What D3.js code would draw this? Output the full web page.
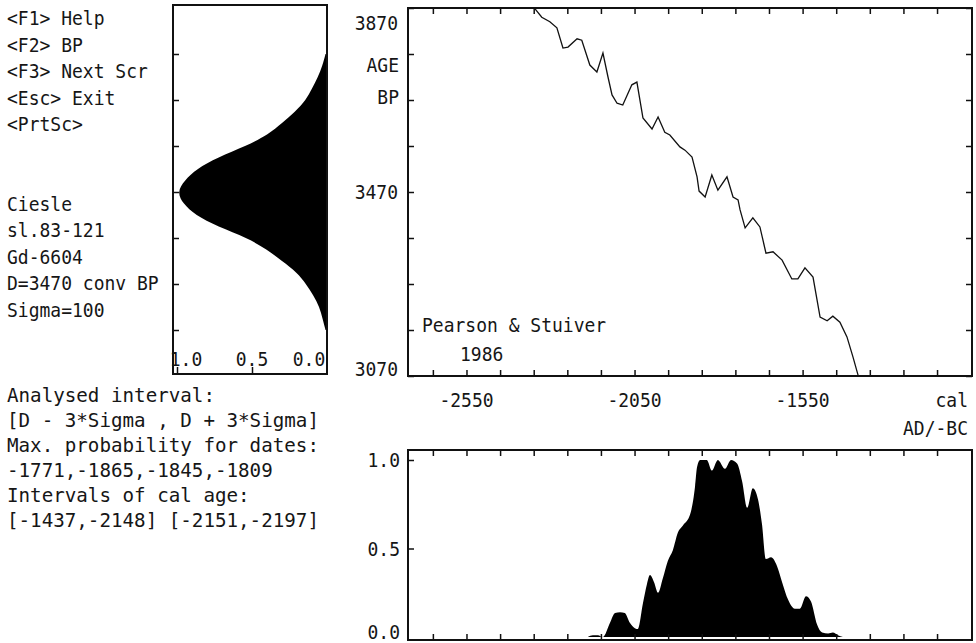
<!DOCTYPE html>
<html>
<head>
<meta charset="utf-8">
<script src="https://cdn.jsdelivr.net/npm/d3@7"></script>
<style>
  body { margin: 0; background: #fff; }
  svg text { font-family: "DejaVu Sans Mono", monospace; font-size: 20px; fill: #161616; }
</style>
</head>
<body>
<svg id="chart" width="976" height="643"></svg>
<script>
// calibration curve (Pearson & Stuiver 1986), cal years vs conventional age BP
const curveYears = [-2346, -2326, -2302, -2281, -2263, -2248, -2221, -2207, -2183, -2162, -2144, -2129, -2117, -2102, -2085, -2058, -2043, -2025, -1998, -1980, -1960, -1945, -1915, -1900, -1879, -1864, -1858, -1840, -1820, -1802, -1775, -1757, -1742, -1736, -1721, -1698, -1677, -1659, -1638, -1611, -1582, -1564, -1543, -1519, -1498, -1477, -1460, -1439, -1418, -1400, -1385]
const curveBP = [3868, 3850, 3840, 3827, 3783, 3785, 3803, 3800, 3746, 3731, 3772, 3720, 3681, 3663, 3659, 3703, 3709, 3631, 3607, 3633, 3600, 3594, 3568, 3561, 3546, 3503, 3472, 3459, 3507, 3474, 3503, 3459, 3453, 3431, 3392, 3414, 3394, 3337, 3340, 3322, 3281, 3281, 3305, 3285, 3198, 3190, 3200, 3187, 3155, 3111, 3072]

// measured date as probability over age BP (left panel)
const gaussAge = [3770, 3745, 3720, 3695, 3670, 3645, 3620, 3595, 3570, 3545, 3520, 3495, 3470, 3445, 3420, 3395, 3370, 3345, 3320, 3295, 3270, 3245, 3220, 3195, 3170]
const gaussProb = [0.01, 0.03, 0.06, 0.1, 0.14, 0.21, 0.3, 0.39, 0.54, 0.73, 0.87, 0.95, 1.0, 0.96, 0.88, 0.73, 0.53, 0.4, 0.3, 0.2, 0.14, 0.09, 0.05, 0.03, 0.01]

// calibrated probability (bottom panel)
const histYears = [-2189, -2174, -2159, -2144, -2123, -2108, -2093, -2079, -2064, -2049, -2040, -2025, -2013, -2004, -1992, -1980, -1966, -1951, -1936, -1921, -1906, -1885, -1870, -1864, -1855, -1835, -1820, -1802, -1781, -1763, -1745, -1730, -1715, -1698, -1683, -1671, -1659, -1644, -1626, -1611, -1593, -1573, -1558, -1540, -1525, -1507, -1492, -1474, -1460, -1445, -1430]
const histProb = [0, 0.01, 0.01, 0, 0.08, 0.135, 0.14, 0.135, 0.08, 0.05, 0.045, 0.19, 0.3, 0.35, 0.31, 0.25, 0.33, 0.43, 0.49, 0.59, 0.63, 0.69, 0.85, 0.96, 1.0, 1.0, 0.94, 1.0, 0.95, 1.0, 0.98, 0.88, 0.73, 0.84, 0.78, 0.64, 0.44, 0.45, 0.4, 0.31, 0.21, 0.16, 0.16, 0.23, 0.2, 0.07, 0.025, 0.02, 0.025, 0.01, 0]

const ageLabels = [3870, 3470, 3070]
const calLabels = [-2550, -2050, -1550]
const probLabels = [1.0, 0.5, 0.0]
const menuLines = ['<F1> Help', '<F2> BP', '<F3> Next Scr', '<Esc> Exit', '<PrtSc>']
const sampleLines = ['Ciesle', 'sl.83-121', 'Gd-6604', 'D=3470 conv BP', 'Sigma=100']
const resultLines = ['Analysed interval:', '[D - 3*Sigma , D + 3*Sigma]', 'Max. probability for dates:', '-1771,-1865,-1845,-1809', 'Intervals of cal age:', '[-1437,-2148] [-2151,-2197]']

const svg = d3.select('#chart')

const x = d3.scaleLinear().domain([-2724, -1046]).range([408, 972])
const yAge = d3.scaleLinear().domain([3070, 3870]).range([376, 8])
const gx = d3.scaleLinear().domain([0, 1]).range([327, 177])
const yP = d3.scaleLinear().domain([0, 1]).range([637, 460])

const ageTicks = d3.range(3070, 3871, 100)
const calTicks = d3.range(-2650, -1100, 100)

function txt(g, px, py, s, anchor, sx) {
    g.append('text')
        .attr('transform', 'translate(' + px + ',' + py + ') scale(' + (sx || 0.9) + ',1)')
        .attr('text-anchor', anchor || 'start')
        .attr('dominant-baseline', 'central')
        .text(s)
}

function box(x0, y0, x1, y1, w) {
    svg.append('rect')
        .attr('x', x0).attr('y', y0)
        .attr('width', x1 - x0).attr('height', y1 - y0)
        .attr('fill', 'none').attr('stroke', '#111').attr('stroke-width', w || 2)
}

function ticks(axis, tx, ty) {
    const g = svg.append('g').attr('transform', 'translate(' + tx + ',' + ty + ')').call(axis)
    g.select('.domain').remove()
    g.selectAll('.tick line').attr('stroke', '#111').attr('stroke-width', 1.5)
    return g
}

// left panel: measured date distribution
svg.append('path')
    .datum(gaussAge.map((a, i) => [a, gaussProb[i]]))
    .attr('d', d3.area()
        .y(d => yAge(d[0]))
        .x0(gx(0))
        .x1(d => gx(d[1]))
        .curve(d3.curveBasis))
    .attr('fill', '#000')
box(173, 5, 327, 374, 2)
ticks(d3.axisLeft(yAge).tickValues(ageTicks.slice(1, -1)).tickSize(-6).tickFormat(''), 173, 0)
ticks(d3.axisBottom(gx).tickValues([1, 0.5]).tickSize(-7).tickFormat(''), 0, 374)
probLabels.forEach(v => {
    const lx = v === 1 ? gx(v) + 9 : v === 0 ? gx(v) - 18 : gx(v)
    txt(svg, lx, 359, v.toFixed(1), 'middle')
})

// top right panel: calibration curve
svg.append('clipPath').attr('id', 'clipTop')
    .append('rect').attr('x', 408).attr('y', 8).attr('width', 564).attr('height', 368)
svg.append('path')
    .datum(curveYears.map((c, i) => [c, curveBP[i]]))
    .attr('clip-path', 'url(#clipTop)')
    .attr('d', d3.line().x(d => x(d[0])).y(d => yAge(d[1])))
    .attr('fill', 'none').attr('stroke', '#111').attr('stroke-width', 1.3)
box(408, 8, 972, 376, 2)
ticks(d3.axisLeft(yAge).tickValues(ageTicks).tickSize(-6).tickFormat(''), 408, 0)
ticks(d3.axisRight(yAge).tickValues(ageTicks).tickSize(-6).tickFormat(''), 972, 0)
ticks(d3.axisTop(x).tickValues(calTicks).tickSize(-6).tickFormat(''), 0, 8)
ticks(d3.axisBottom(x).tickValues(calTicks).tickSize(-6).tickFormat(''), 0, 376)
ageLabels.forEach(v => {
    const ly = Math.min(Math.max(yAge(v), 23), 369)
    txt(svg, 398, ly, v, 'end')
})
calLabels.forEach(v => txt(svg, x(v), 400, v, 'middle'))
txt(svg, 968, 400, 'cal', 'end')
txt(svg, 968, 428, 'AD/-BC', 'end')
txt(svg, 399, 65, 'AGE', 'end')
txt(svg, 399, 97, 'BP', 'end')
txt(svg, 422, 325, 'Pearson & Stuiver', 'start')
txt(svg, 460, 354, '1986', 'start')

// bottom panel: calibrated distribution
svg.append('path')
    .datum(histYears.map((c, i) => [c, histProb[i]]))
    .attr('d', d3.area()
        .x(d => x(d[0]))
        .y0(yP(0))
        .y1(d => yP(d[1]))
        .curve(d3.curveMonotoneX))
    .attr('fill', '#000')
box(408, 450, 972, 640, 2)
ticks(d3.axisTop(x).tickValues(calTicks).tickSize(-6).tickFormat(''), 0, 450)
ticks(d3.axisBottom(x).tickValues(calTicks).tickSize(-6).tickFormat(''), 0, 640)
ticks(d3.axisLeft(yP).tickValues([1, 0.5]).tickSize(-6).tickFormat(''), 408, 0)
probLabels.forEach(v => txt(svg, 400, Math.min(yP(v), 632), v.toFixed(1), 'end'))

// left column texts, one text grid of 26.5 px with two blank rows
menuLines.forEach((s, i) => txt(svg, 7, 18 + i * 26.5, s))
sampleLines.forEach((s, i) => txt(svg, 7, 18 + (i + 7) * 26.5, s))
resultLines.forEach((s, i) => txt(svg, 7, 395 + i * 25, s, 'start', 0.96))
</script>
</body>
</html>
